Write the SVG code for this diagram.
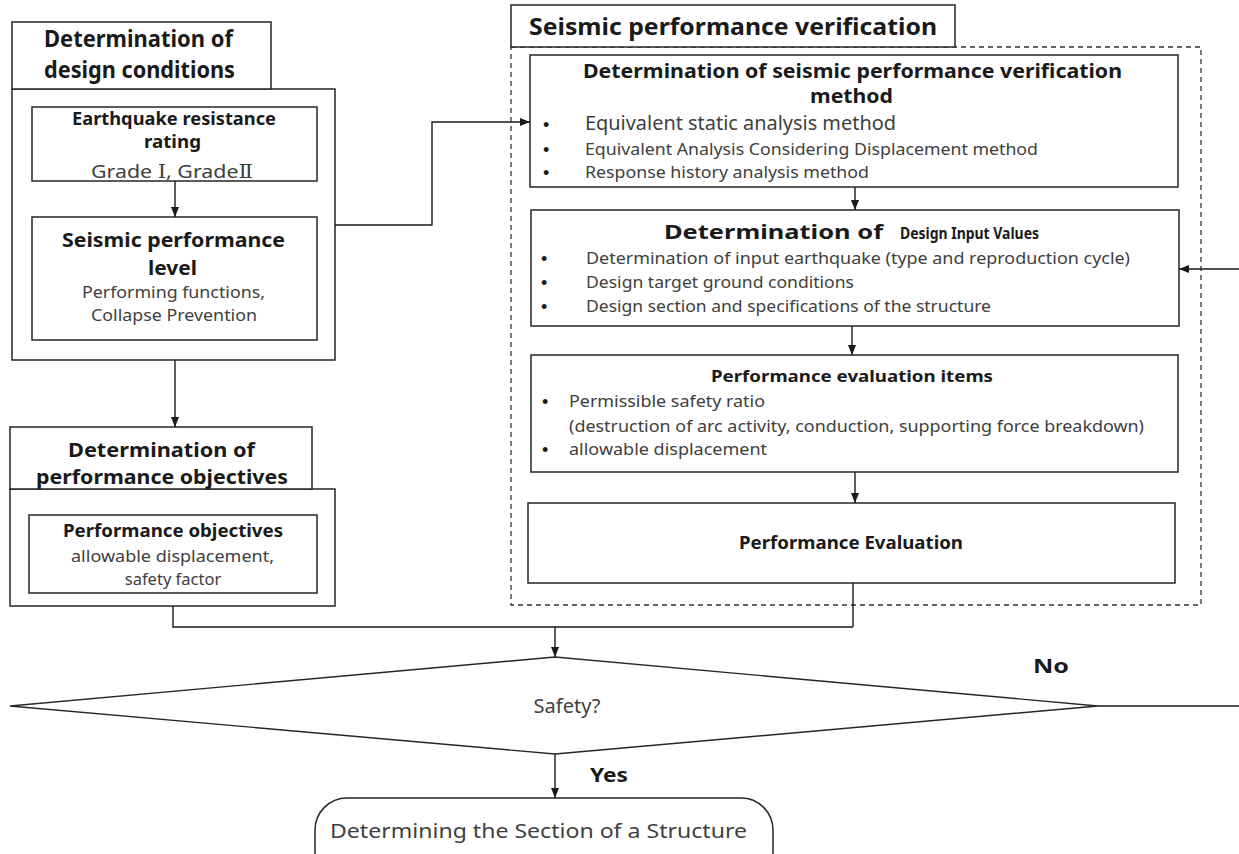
<svg xmlns="http://www.w3.org/2000/svg" width="1239" height="854" viewBox="0 0 1239 854">
<style>
.box{fill:#fff;stroke:#262626;stroke-width:1.5}
.dash{fill:none;stroke:#333;stroke-width:1.3;stroke-dasharray:5,4}
.b{font-family:"Noto Sans","Liberation Sans","Noto Sans CJK KR",sans-serif;font-weight:bold;fill:#1a1a1a}
.n{font-family:"Noto Sans","Liberation Sans","Noto Sans CJK KR",sans-serif;fill:#404040}
.bu{font-family:"Liberation Sans",sans-serif;fill:#1a1a1a;font-size:18px}
.rn{font-family:"DejaVu Serif","Noto Sans CJK KR",serif}
.ln{stroke:#1a1a1a;stroke-width:1.4;fill:none}
.ar{stroke:#1a1a1a;stroke-width:1.4;fill:none;marker-end:url(#ah)}
</style>
<defs>
<marker id="ah" viewBox="0 0 10 10" refX="10" refY="5" markerWidth="10" markerHeight="10" markerUnits="userSpaceOnUse" orient="auto">
<path d="M0,1 L10,5 L0,9 z" fill="#1a1a1a"/>
</marker>
</defs>
<rect width="1239" height="854" fill="#fff"/>

<g id="verification-group">
<rect class="dash" x="511" y="47" width="690" height="558"/>
<rect class="box" x="511" y="5" width="444" height="42"/>
<text class="b" x="529" y="35" font-size="24" textLength="408" lengthAdjust="spacingAndGlyphs">Seismic performance verification</text>
</g>

<g id="design-conditions">
<rect class="box" x="12" y="89" width="323" height="271"/>
<rect class="box" x="12" y="22" width="259" height="67"/>
<text class="b" x="44" y="47" font-size="23" textLength="189" lengthAdjust="spacingAndGlyphs">Determination of</text>
<text class="b" x="44" y="78" font-size="23" textLength="191" lengthAdjust="spacingAndGlyphs">design conditions</text>
</g>

<g id="earthquake-rating">
<rect class="box" x="32" y="107" width="285" height="74"/>
<text class="b" x="72" y="125" font-size="17" textLength="204" lengthAdjust="spacingAndGlyphs">Earthquake resistance</text>
<text class="b" x="144" y="148" font-size="17" textLength="57" lengthAdjust="spacingAndGlyphs">rating</text>
<text class="n" x="91" y="178" font-size="18" textLength="162" lengthAdjust="spacingAndGlyphs">Grade <tspan class="rn">Ⅰ</tspan>, Grade<tspan class="rn">Ⅱ</tspan></text>
</g>

<g id="performance-level">
<rect class="box" x="32" y="217" width="285" height="123"/>
<text class="b" x="62" y="247" font-size="20" textLength="223" lengthAdjust="spacingAndGlyphs">Seismic  performance</text>
<text class="b" x="148" y="275" font-size="20" textLength="49" lengthAdjust="spacingAndGlyphs">level</text>
<text class="n" x="82" y="298" font-size="16" textLength="183" lengthAdjust="spacingAndGlyphs">Performing functions,</text>
<text class="n" x="91" y="321" font-size="16" textLength="166" lengthAdjust="spacingAndGlyphs">Collapse Prevention</text>
</g>

<g id="performance-objectives-group">
<rect class="box" x="10" y="489" width="325" height="117"/>
<rect class="box" x="10" y="427" width="302" height="62"/>
<text class="b" x="68" y="457" font-size="19.5" textLength="187" lengthAdjust="spacingAndGlyphs">Determination of</text>
<text class="b" x="36" y="484" font-size="19.5" textLength="252" lengthAdjust="spacingAndGlyphs">performance objectives</text>
</g>

<g id="performance-objectives">
<rect class="box" x="29" y="515" width="288" height="78"/>
<text class="b" x="63" y="537" font-size="17" textLength="220" lengthAdjust="spacingAndGlyphs">Performance objectives</text>
<text class="n" x="71" y="562" font-size="16" textLength="203" lengthAdjust="spacingAndGlyphs">allowable displacement,</text>
<text class="n" x="173" y="585" font-size="16.5" text-anchor="middle">safety factor</text>
</g>

<g id="verification-method">
<rect class="box" x="530" y="55" width="648" height="132"/>
<text class="b" x="583" y="78" font-size="20" textLength="539" lengthAdjust="spacingAndGlyphs">Determination of seismic performance verification</text>
<text class="b" x="810" y="103" font-size="20" textLength="83" lengthAdjust="spacingAndGlyphs">method</text>
<text class="bu" x="543" y="131">•</text>
<text class="n" x="585" y="130" font-size="20" textLength="311" lengthAdjust="spacingAndGlyphs">Equivalent static analysis method</text>
<text class="bu" x="543" y="156">•</text>
<text class="n" x="585" y="155" font-size="16" textLength="453" lengthAdjust="spacingAndGlyphs">Equivalent Analysis Considering Displacement method</text>
<text class="bu" x="543" y="179">•</text>
<text class="n" x="585" y="178" font-size="16" textLength="284" lengthAdjust="spacingAndGlyphs">Response history analysis method</text>
</g>

<g id="design-input-values">
<rect class="box" x="531" y="210" width="648" height="116"/>
<text class="b" x="664" y="239" font-size="20" textLength="219" lengthAdjust="spacingAndGlyphs">Determination of</text>
<text class="b" x="900" y="239" font-size="16" textLength="139" lengthAdjust="spacingAndGlyphs">Design Input Values</text>
<text class="bu" x="541" y="265">•</text>
<text class="n" x="586" y="264" font-size="16" textLength="544" lengthAdjust="spacingAndGlyphs">Determination of input earthquake (type and reproduction cycle)</text>
<text class="bu" x="541" y="289">•</text>
<text class="n" x="586" y="288" font-size="16" textLength="268" lengthAdjust="spacingAndGlyphs">Design target ground conditions</text>
<text class="bu" x="541" y="313">•</text>
<text class="n" x="586" y="312" font-size="16" textLength="405" lengthAdjust="spacingAndGlyphs">Design section and specifications of the structure</text>
</g>

<g id="evaluation-items">
<rect class="box" x="531" y="355" width="647" height="117"/>
<text class="b" x="711" y="382" font-size="16" textLength="282" lengthAdjust="spacingAndGlyphs">Performance evaluation items</text>
<text class="bu" x="542" y="408">•</text>
<text class="n" x="569" y="407" font-size="16" textLength="196" lengthAdjust="spacingAndGlyphs">Permissible safety ratio</text>
<text class="n" x="569" y="432" font-size="16" textLength="575" lengthAdjust="spacingAndGlyphs">(destruction of arc activity, conduction, supporting force breakdown)</text>
<text class="bu" x="542" y="456">•</text>
<text class="n" x="569" y="455" font-size="16" textLength="198" lengthAdjust="spacingAndGlyphs">allowable displacement</text>
</g>

<g id="performance-evaluation">
<rect class="box" x="528" y="503" width="647" height="80"/>
<text class="b" x="739" y="549" font-size="17" textLength="224" lengthAdjust="spacingAndGlyphs">Performance Evaluation</text>
</g>

<g id="safety-decision">
<polygon points="10,706 555,657 1098,706 555,754" fill="#fff" stroke="#262626" stroke-width="1.4"/>
<text class="n" x="567" y="713" font-size="20" text-anchor="middle">Safety?</text>
</g>

<g id="section-terminal">
<rect class="box" x="315" y="798" width="458" height="86" rx="32"/>
<text class="n" x="330" y="838" font-size="20" textLength="417" lengthAdjust="spacingAndGlyphs">Determining the Section of a Structure</text>
</g>

<g id="connectors">
<line class="ar" x1="175" y1="181" x2="175" y2="217"/>
<polyline class="ar" points="335,225 432,225 432,122 530,122"/>
<line class="ar" x1="175" y1="360" x2="175" y2="427"/>
<line class="ar" x1="855" y1="187" x2="855" y2="210"/>
<line class="ar" x1="852" y1="326" x2="852" y2="355"/>
<line class="ar" x1="855" y1="472" x2="855" y2="503"/>
<polyline class="ln" points="173,606 173,627 853,627"/>
<line class="ln" x1="853" y1="583" x2="853" y2="627"/>
<line class="ar" x1="555" y1="627" x2="555" y2="657"/>
<line class="ar" x1="555" y1="754" x2="555" y2="798"/>
<line class="ln" x1="1098" y1="706" x2="1239" y2="706"/>
<line class="ar" x1="1239" y1="269" x2="1179" y2="269"/>
<text class="b" x="1033" y="673" font-size="20" textLength="36" lengthAdjust="spacingAndGlyphs">No</text>
<text class="b" x="590" y="782" font-size="20" textLength="38" lengthAdjust="spacingAndGlyphs">Yes</text>
</g>
</svg>
